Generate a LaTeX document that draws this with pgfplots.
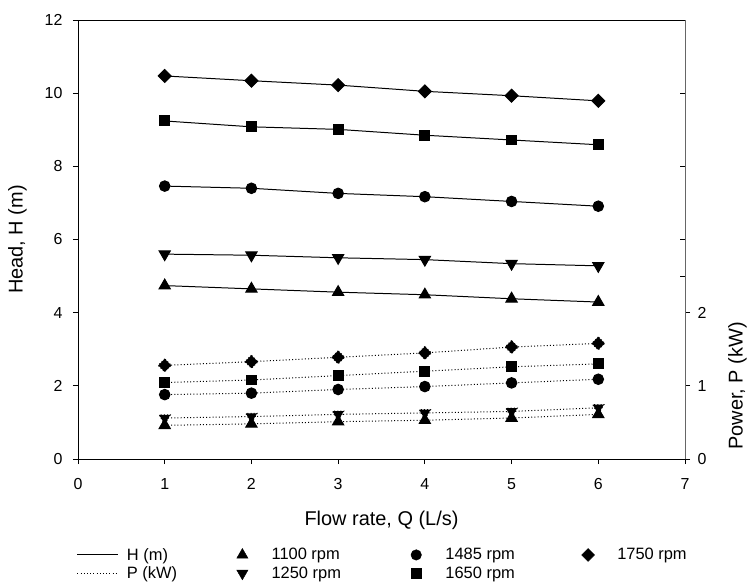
\documentclass[border=0pt]{standalone}
\usepackage{pgfplots}
\pgfplotsset{compat=1.18}
\usepackage{fontspec}
\setmainfont{Liberation Sans}

\pgfplotsset{
  every non boxed x axis/.style={},
  every non boxed y axis/.style={},
  common/.style={
    scale only axis, width=607bp, height=439bp,
    xmin=0, xmax=7,
    axis line style={-, line width=1pt},
    tick style={black, line width=0.9pt},
    major tick length=5bp,
    tick label style={font=\fontsize{16}{19}\selectfont},
    /pgf/number format/assume math mode=true,
  },
  hline/.style={black, line width=1pt, mark options={solid}},
  pline/.style={black, line width=1pt, dash pattern=on 1pt off 2.2pt, mark options={solid}},
  mk/.style={only marks, black, legend image code/.code={\path (0bp,0bp) (33bp,0bp); \draw[##1] plot coordinates {(8bp,0bp)};}},
  lg/.style={black, line width=1pt, legend image code/.code={\path (0bp,0bp) (45bp,0bp); \draw[##1] (0bp,0bp) -- (41bp,0bp);}},
}

\begin{document}
\begin{tikzpicture}
\useasboundingbox (-78bp,-123bp) rectangle (669bp,459bp);
\begin{axis}[common,
  ymin=0, ymax=12,
  axis x line*=bottom, axis y line*=left,
  xtick align=outside, ytick align=outside,
  xtick={0,1,...,7}, ytick={0,2,...,12},
  xticklabel style={yshift=-11bp},
  yticklabel style={xshift=-7bp},
  xlabel={Flow rate, Q (L/s)}, ylabel={Head, H (m)},
  xlabel style={font=\fontsize{20}{24}\selectfont, inner sep=0pt, at={(rel axis cs:0.5,0)}, anchor=north, yshift=-52bp},
  ylabel style={font=\fontsize{20}{24}\selectfont, inner sep=0pt, at={(rel axis cs:0,0.5)}, anchor=south, yshift=51bp},
  legend columns=4,
  legend style={draw=none, fill=none, inner sep=0pt, outer sep=0pt,
    at={(-0.0017,-0.201)}, anchor=north west,
    font=\fontsize{16.5}{20}\selectfont,
    row sep=3bp,
    nodes={inner xsep=4bp, inner ysep=1bp},
    /tikz/column 2/.style={column sep=53bp},
    /tikz/column 4/.style={column sep=63bp},
    /tikz/column 6/.style={column sep=61bp}},
  legend cell align=left,
]
\addlegendimage{lg}
\addlegendentry{H (m)}
\addlegendimage{mk, mark=triangle*, mark size=6.5}
\addlegendentry{1100 rpm}
\addlegendimage{mk, mark=*, mark size=5.3}
\addlegendentry{1485 rpm}
\addlegendimage{mk, mark=square*, mark size=4.6, mark options={rotate=45}}
\addlegendentry{1750 rpm}
\addlegendimage{lg, dash pattern=on 1pt off 2.2pt}
\addlegendentry{P (kW)}
\addlegendimage{mk, mark=triangle*, mark size=6.5, mark options={rotate=180}}
\addlegendentry{1250 rpm}
\addlegendimage{mk, mark=square*, mark size=5}
\addlegendentry{1650 rpm}

% head curves
\addplot[hline, mark=triangle*, mark size=6.5, forget plot] coordinates {(1,4.74)(2,4.65)(3,4.56)(4,4.49)(5,4.38)(6,4.29)};
\addplot[hline, mark=triangle*, mark size=6.5, mark options={rotate=180}, forget plot] coordinates {(1,5.6)(2,5.57)(3,5.5)(4,5.45)(5,5.34)(6,5.28)};
\addplot[hline, mark=*, mark size=5.3, forget plot] coordinates {(1,7.46)(2,7.4)(3,7.26)(4,7.17)(5,7.04)(6,6.91)};
\addplot[hline, mark=square*, mark size=5, forget plot] coordinates {(1,9.24)(2,9.08)(3,9.01)(4,8.85)(5,8.72)(6,8.59)};
\addplot[hline, mark=square*, mark size=4.6, mark options={rotate=45}, forget plot] coordinates {(1,10.47)(2,10.34)(3,10.22)(4,10.05)(5,9.93)(6,9.79)};
\end{axis}

\begin{axis}[common,
  ymin=0, ymax=6,
  axis x line*=top, axis y line*=right,
  x axis line style={black},
  y axis line style={gray!80!black},
  xtick=\empty, ytick={0,1,2},
  ytick align=outside,
  yticklabel pos=right,
  yticklabel style={xshift=4bp},
  extra y ticks={2.5,3,4,5}, extra y tick labels={},
  extra y tick style={ytick align=inside},
  ylabel={Power, P (kW)},
  ylabel style={font=\fontsize{20}{24}\selectfont, inner sep=0pt, at={(rel axis cs:1,0.1667)}, anchor=north, yshift=-43bp},
]
\addplot[pline, mark=triangle*, mark size=6.5] coordinates {(1,0.46)(2,0.48)(3,0.51)(4,0.53)(5,0.56)(6,0.61)};
\addplot[pline, mark=triangle*, mark size=6.5, mark options={rotate=180}] coordinates {(1,0.56)(2,0.58)(3,0.61)(4,0.63)(5,0.65)(6,0.70)};
\addplot[pline, mark=*, mark size=5.3] coordinates {(1,0.88)(2,0.9)(3,0.95)(4,0.99)(5,1.04)(6,1.09)};
\addplot[pline, mark=square*, mark size=5] coordinates {(1,1.045)(2,1.08)(3,1.14)(4,1.2)(5,1.26)(6,1.3)};
\addplot[pline, mark=square*, mark size=4.6, mark options={rotate=45}] coordinates {(1,1.28)(2,1.33)(3,1.39)(4,1.45)(5,1.53)(6,1.58)};
\end{axis}
\end{tikzpicture}
\end{document}
